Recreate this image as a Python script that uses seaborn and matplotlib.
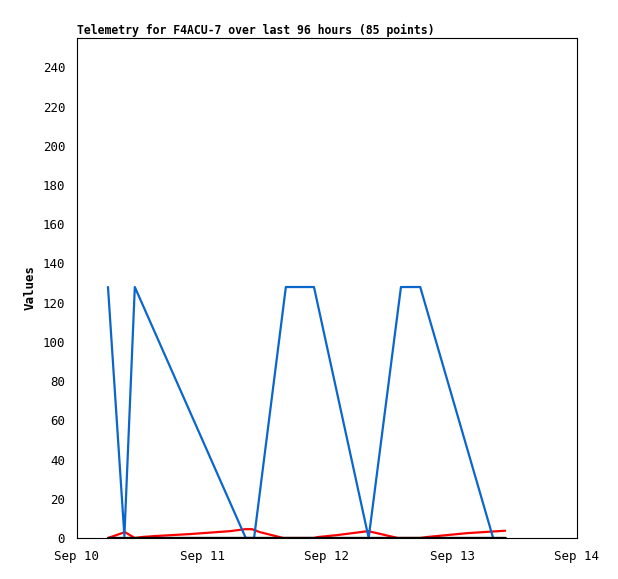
import matplotlib
matplotlib.use("Agg")
import matplotlib.pyplot as plt
import matplotlib.dates as mdates
import seaborn as sns
import pandas as pd
import numpy as np

# Data (hours after Sep 10 00:00)
blue_hours = [5.95, 9.1, 11.1, 32.4, 34.0, 40.1, 45.5, 56.0, 62.2, 65.9, 79.9]
blue_values = [128, 1, 128, 0, 0, 128, 128, 0, 128, 128, 0]

red_hours = [5.95, 9.2, 11.1, 12.5, 15.0, 21.7, 29.4, 32.3, 33.6, 35.1, 39.6,
             45.5, 46.3, 50.0, 55.9, 61.6, 65.9, 67.2, 75.0, 82.2]
red_values = [0, 3, 0, 0.5, 1, 2, 3.5, 4.5, 4.5, 3, 0,
              0, 0.5, 1.5, 3.5, 0, 0, 0.5, 2.5, 3.7]

black_hours = [5.95, 82.2]
black_values = [0, 0]

title = "Telemetry for F4ACU-7 over last 96 hours (85 points)"
y_ticks = list(range(0, 241, 20))

start = pd.Timestamp("2023-09-10")
def to_dt(hours):
    return [start + pd.Timedelta(hours=h) for h in hours]

df_blue = pd.DataFrame({"t": to_dt(blue_hours), "v": blue_values})
df_red = pd.DataFrame({"t": to_dt(red_hours), "v": red_values})
df_black = pd.DataFrame({"t": to_dt(black_hours), "v": black_values})

sns.set_style("white")
plt.rcParams['font.family'] = ['DejaVu Sans Mono']
plt.rcParams['text.color'] = 'black'
plt.rcParams['axes.labelcolor'] = 'black'

fig = plt.figure(figsize=(6.18, 5.79), dpi=100)
ax = fig.add_axes([77/618, 41/579, 500/618, 500/579])

sns.lineplot(data=df_red, x="t", y="v", ax=ax, color="#ff0000", linewidth=1.6)
sns.lineplot(data=df_blue, x="t", y="v", ax=ax, color="#0a66cc", linewidth=1.6)
sns.lineplot(data=df_black, x="t", y="v", ax=ax, color="#000000", linewidth=2.4)

ax.set_xlim(start, start + pd.Timedelta(days=4))
ax.set_ylim(0, 255)
ax.set_yticks(y_ticks)
ax.xaxis.set_major_locator(mdates.DayLocator())
ax.xaxis.set_major_formatter(mdates.DateFormatter("%b %d"))

ax.tick_params(direction="out", length=5, width=0.8, colors="black", labelsize=9)
for s in ax.spines.values():
    s.set_color("black")
    s.set_linewidth(0.8)

ax.set_xlabel("")
ax.set_ylabel("Values", fontsize=9, fontweight="bold", color="black")
ax.set_title(title, loc="left", fontsize=8.3, fontweight="bold", pad=3, color="black")

fig.savefig("out.png", dpi=100, facecolor="white")
